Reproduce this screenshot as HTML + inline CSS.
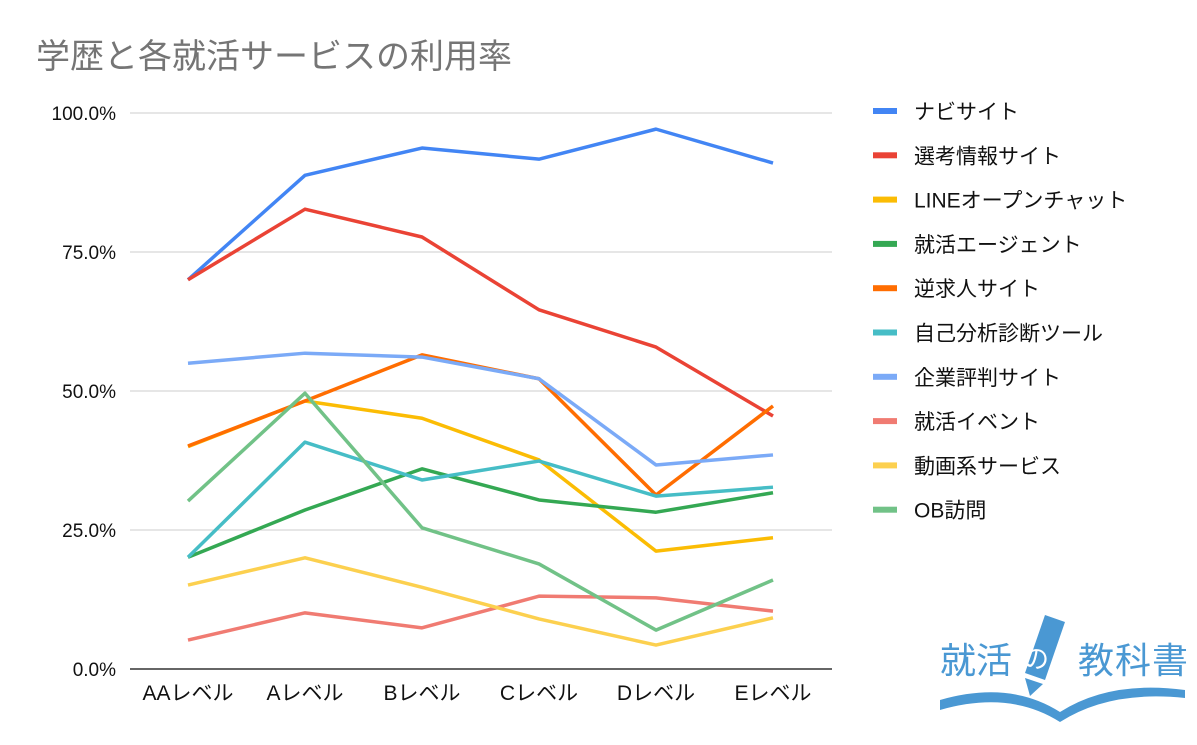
<!DOCTYPE html>
<html><head><meta charset="utf-8"><style>
body{margin:0;background:#fff;}
svg text{font-family:"Liberation Sans","Noto Sans CJK JP",sans-serif;}
</style></head><body>
<svg id="c" width="1197" height="740">
<text x="36" y="68" font-size="34" fill="#757575">学歴と各就活サービスの利用率</text>
<g id="grid"></g><g id="lines"></g><g id="legend"></g>
<g>
<path d="M940 700 Q1010 680 1060 712 Q1110 680 1185 690 L1185 698 Q1110 690 1060 722 Q1010 690 940 710 Z" fill="#4a98d3"/>
<path d="M1045 615 L1065 622 L1045 680 L1025 673 Z" fill="#4a98d3"/>
<path d="M1025 678 L1043 684 L1030 696 Z" fill="#4a98d3"/>
<text x="1023" y="668" font-size="26" fill="#fff" font-family="Noto Sans CJK JP">の</text>
<text x="940" y="673" font-size="36" fill="#4a98d3" font-family="Noto Sans CJK JP">就活</text>
<text x="1078" y="673" font-size="36" fill="#4a98d3" font-family="Noto Sans CJK JP" textLength="110">教科書</text>
</g>
</svg>
<script>
const categories=["AAレベル","Aレベル","Bレベル","Cレベル","Dレベル","Eレベル"];
const seriesNames=["ナビサイト","選考情報サイト","LINEオープンチャット","就活エージェント","逆求人サイト","自己分析診断ツール","企業評判サイト","就活イベント","動画系サービス","OB訪問"];
const colors=["#4285f4","#ea4335","#fbbc04","#34a853","#ff6d01","#46bdc6","#7baaf7","#f07b72","#fcd04f","#71c287"];
const s0=[70,88.8,93.7,91.7,97.1,91.0];
const s1=[70,82.7,77.7,64.6,57.9,45.5];
const s2=[40,48.2,45.1,37.6,21.2,23.6];
const s3=[20.1,28.6,36.0,30.4,28.2,31.7];
const s4=[40.1,48.2,56.5,52.2,31.3,47.3];
const s5=[20.1,40.8,34.0,37.4,31.1,32.7];
const s6=[55.0,56.8,56.1,52.2,36.7,38.5];
const s7=[5.2,10.1,7.4,13.1,12.8,10.4];
const s8=[15.1,20.0,14.7,9.0,4.3,9.2];
const s9=[30.2,49.6,25.4,18.9,7.0,16.0];
const series=[s0,s1,s2,s3,s4,s5,s6,s7,s8,s9];
const yTicks=[0,25,50,75,100];
const yTickLabels=["0.0%","25.0%","50.0%","75.0%","100.0%"];
const NS="http://www.w3.org/2000/svg";
function y(v){return 669-v*5.56;}
function x(i){return 188+i*117;}
function mk(t,a,p){const e=document.createElementNS(NS,t);for(const k in a)e.setAttribute(k,a[k]);p.appendChild(e);return e;}
const g=document.getElementById('grid');
yTicks.forEach((v,i)=>{
 const l=mk('line',{x1:130,x2:832,y1:y(v),y2:y(v),stroke:v===0?'#333':'#ccc','stroke-width':v===0?1.5:1},g);
 
 
 const t=mk('text',{x:116,y:y(v)+7,'font-size':19,'text-anchor':'end',fill:'#111'},g);
 t.textContent=yTickLabels[i];
 
 
});
categories.forEach((c,i)=>{
 const t=mk('text',{x:x(i),y:700,'font-size':21,'text-anchor':'middle',fill:'#111'},g);
 t.textContent=c;
 
 
});
const L=document.getElementById('lines');
[0,2,1,3,4,5,6,7,8,9].forEach(k=>{
 const d=series[k].map((v,i)=>(i?'L':'M')+x(i)+' '+y(v)).join(' ');
 const p=mk('path',{d:d,fill:'none',stroke:colors[k],'stroke-width':3.5,'stroke-linejoin':'round'},L);
 
 
});
const G=document.getElementById('legend');
seriesNames.forEach((n,k)=>{
 const yy=111+k*44.3;
 const r=mk('rect',{x:873,y:yy-3,width:24,height:6,fill:colors[k]},G);
 
 
 const t=mk('text',{x:914,y:yy+8,'font-size':21,fill:'#111'},G);
 t.textContent=n;
 
 
});
</script>
</body></html>
